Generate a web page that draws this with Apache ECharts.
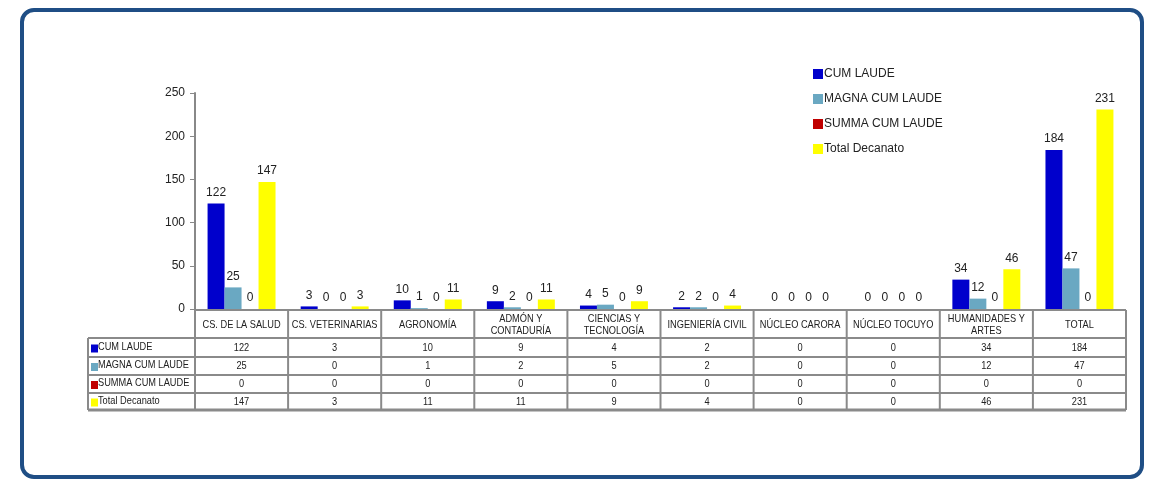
<!DOCTYPE html>
<html>
<head>
<meta charset="utf-8">
<script src="https://cdn.jsdelivr.net/npm/echarts@6/dist/echarts.min.js"></script>
<style>
  html, body { margin: 0; padding: 0; background: #fff; }
  #main { width: 1153px; height: 480px; }
</style>
</head>
<body>
<div id="main"></div>
<script>
// categorias (facultades / decanatos)
const categories = [
    "CS. DE LA SALUD", "CS. VETERINARIAS", "AGRONOMÍA", "ADMÓN Y\nCONTADURÍA",
    "CIENCIAS Y\nTECNOLOGÍA", "INGENIERÍA CIVIL", "NÚCLEO CARORA", "NÚCLEO TOCUYO",
    "HUMANIDADES Y\nARTES", "TOTAL"
];
const seriesNames = ["CUM LAUDE", "MAGNA CUM LAUDE", "SUMMA CUM LAUDE", "Total Decanato"];
const cumLaude = [122, 3, 10, 9, 4, 2, 0, 0, 34, 184];
const magnaCumLaude = [25, 0, 1, 2, 5, 2, 0, 0, 12, 47];
const summaCumLaude = [0, 0, 0, 0, 0, 0, 0, 0, 0, 0];
const totalDecanato = [147, 3, 11, 11, 9, 4, 0, 0, 46, 231];
const yTicks = [0, 50, 100, 150, 200, 250];

const colors = ["#0000CC", "#6AA8C2", "#C00000", "#FFFF00"];
const seriesData = [cumLaude, magnaCumLaude, summaCumLaude, totalDecanato];
const fontMain = "'Liberation Sans', Arial, sans-serif";
const narrow = 0.84; // la tabla usa una letra condensada

const chart = echarts.init(document.getElementById("main"));

const option = {
    backgroundColor: "#ffffff",
    animation: false,
    grid: { left: 195, right: 27, top: 93, bottom: 171 },
    legend: {
        orient: "vertical",
        left: 808,
        top: 63,
        itemWidth: 10,
        itemHeight: 10,
        itemGap: 13,
        icon: "rect",
        textStyle: { fontFamily: fontMain, fontSize: 12, color: "#222", padding: [0, 0, 0, -4] },
        data: seriesNames,
    },
    xAxis: {
        type: "category",
        data: categories,
        axisLine: { show: false },
        axisTick: { show: false },
        axisLabel: { show: false },
    },
    yAxis: {
        type: "value",
        min: yTicks[0],
        max: yTicks[yTicks.length - 1],
        interval: 50,
        splitLine: { show: false },
        axisLine: { show: true, lineStyle: { color: "#888", width: 2 } },
        axisTick: { show: true, length: 5, lineStyle: { color: "#888", width: 1 } },
        axisLabel: { fontFamily: fontMain, fontSize: 12, color: "#222", margin: 10 },
    },
    series: seriesNames.map((name, i) => ({
        name: name,
        type: "bar",
        data: seriesData[i],
        barGap: "0%",
        barCategoryGap: "27%",
        itemStyle: { color: colors[i] },
        label: {
            show: true,
            position: "top",
            distance: 5,
            fontFamily: fontMain,
            fontSize: 12,
            color: "#222",
        },
    })),
};

chart.setOption(option);

// tabla de datos debajo del eje, construida con las mismas posiciones del eje
function buildTable() {
    const centers = categories.map((c, i) => chart.convertToPixel({ xAxisIndex: 0 }, i));
    const band = centers[1] - centers[0];
    const x0 = centers[0] - band / 2;
    const x1 = centers[centers.length - 1] + band / 2;
    const rowHeadLeft = 88;
    const yHeadTop = 310;
    const rowLines = [338, 357, 375, 393, 410];
    const lineColor = "#8a8a8a";
    const els = [];

    const txt = (x, y, text, align, extra) => ({
        type: "text",
        x: x,
        y: y,
        scaleX: narrow,
        style: Object.assign({
            text: text,
            fontFamily: fontMain,
            fontSize: 11,
            fill: "#222",
            align: align,
            verticalAlign: "middle",
        }, extra || {}),
        z: 6,
    });

    // marco redondeado
    els.push({
        type: "rect",
        shape: { x: 22, y: 10, width: 1120, height: 467, r: 12 },
        style: { fill: "none", stroke: "#1F4E85", lineWidth: 4 },
        z: 10,
    });

    // lineas horizontales
    els.push({ type: "line", shape: { x1: x0, y1: yHeadTop, x2: x1, y2: yHeadTop }, style: { stroke: lineColor, lineWidth: 2 }, z: 5 });
    rowLines.forEach((y, k) => {
        els.push({
            type: "line",
            shape: { x1: rowHeadLeft, y1: y, x2: x1, y2: y },
            style: { stroke: lineColor, lineWidth: k === rowLines.length - 1 ? 3 : 2 },
            z: 5,
        });
    });
    // lineas verticales
    els.push({ type: "line", shape: { x1: rowHeadLeft, y1: rowLines[0], x2: rowHeadLeft, y2: rowLines[rowLines.length - 1] }, style: { stroke: lineColor, lineWidth: 2 }, z: 5 });
    for (let i = 0; i <= categories.length; i++) {
        const x = x0 + band * i;
        els.push({
            type: "line",
            shape: { x1: x, y1: i === 0 ? 309 : yHeadTop, x2: x, y2: rowLines[rowLines.length - 1] },
            style: { stroke: lineColor, lineWidth: 2 },
            z: 5,
        });
    }

    // encabezado de categorias
    categories.forEach((c, i) => {
        els.push(txt(centers[i], (yHeadTop + rowLines[0]) / 2 + 1, c, "center", { lineHeight: 12 }));
    });

    // filas de valores
    seriesNames.forEach((name, r) => {
        const yMid = (rowLines[r] + rowLines[r + 1]) / 2;
        els.push({
            type: "rect",
            shape: { x: rowHeadLeft + 3, y: yMid - 3, width: 7, height: 8 },
            style: { fill: colors[r] },
            z: 6,
        });
        els.push(txt(rowHeadLeft + 10, yMid - 1, name, "left"));
        seriesData[r].forEach((v, i) => {
            els.push(txt(centers[i], yMid, String(v), "center"));
        });
    });

    chart.setOption({ graphic: { elements: els } });
}

buildTable();
</script>
</body>
</html>
